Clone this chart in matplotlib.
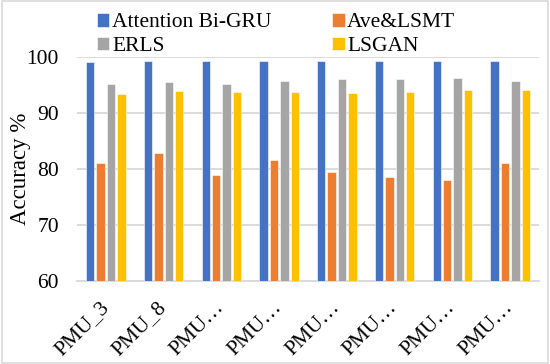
import numpy as np
import matplotlib
matplotlib.use("Agg")
import matplotlib.pyplot as plt
from matplotlib.patches import Rectangle

# accuracy (%) per PMU for each method
pmus = ["PMU_3", "PMU_8", "PMU…", "PMU…", "PMU…", "PMU…", "PMU…", "PMU…"]
attention_bigru = [99.2, 99.4, 99.4, 99.4, 99.4, 99.4, 99.4, 99.3]
ave_lsmt = [81.0, 82.9, 78.9, 81.7, 79.5, 78.6, 78.0, 81.0]
erls = [95.2, 95.6, 95.2, 95.8, 96.1, 96.1, 96.3, 95.8]
lsgan = [93.4, 94.0, 93.8, 93.75, 93.6, 93.8, 94.2, 94.2]

series = [
    ("Attention Bi-GRU", attention_bigru, "#4472C4"),
    ("Ave&LSMT", ave_lsmt, "#ED7D31"),
    ("ERLS", erls, "#A5A5A5"),
    ("LSGAN", lsgan, "#FFC000"),
]

plt.rcParams["font.family"] = ["Liberation Serif", "DejaVu Serif"]
fs = 15.5

fig = plt.figure(figsize=(5.5, 3.64), dpi=100)
ax = fig.add_axes([0.14, 0.228, 0.84, 0.615])

x = np.arange(len(pmus))
step = 0.18
width = 0.145
handles = []
for k, (name, vals, col) in enumerate(series):
    h = ax.bar(x + (k - 1.5) * step, np.array(vals) - 60, bottom=60, width=width,
               color=col, edgecolor="white", linewidth=0.4, label=name, zorder=3)
    handles.append(h)

ax.set_xlim(-0.5, len(pmus) - 0.5)
ax.set_ylim(60, 100)
ax.set_yticks([60, 70, 80, 90, 100])
ax.grid(axis="y", color="#d9d9d9", linewidth=1.3, zorder=0)
ax.set_axisbelow(True)
for s in ["top", "right", "left"]:
    ax.spines[s].set_visible(False)
ax.spines["bottom"].set_color("#d9d9d9")
ax.spines["bottom"].set_linewidth(1.3)
ax.tick_params(length=0, labelsize=fs)
ax.tick_params(axis="y", pad=13)
ax.set_xticks(x)
ax.set_xticklabels(pmus, rotation=45, ha="right", va="center", rotation_mode="anchor")
ax.tick_params(axis="x", pad=17)
ax.set_ylabel("Accuracy %", fontsize=16.5)
ax.yaxis.set_label_coords(-0.099, 0.5)

# legend fills row by row: Attention Bi-GRU, Ave&LSMT / ERLS, LSGAN
order = [0, 2, 1, 3]
fig.legend(handles=[handles[i] for i in order], loc="upper left",
           bbox_to_anchor=(0.152, 1.0), ncol=2, frameon=False, fontsize=fs,
           handlelength=0.6, handleheight=0.6, handletextpad=0.12,
           columnspacing=2.8, labelspacing=0.2, borderaxespad=0.2)

# thin chart-area border
fig.patches.append(Rectangle((0.003, 0.003), 0.994, 0.994, transform=fig.transFigure,
                             fill=False, edgecolor="#d9d9d9", linewidth=1.2))

fig.savefig("out.png", dpi=100)
